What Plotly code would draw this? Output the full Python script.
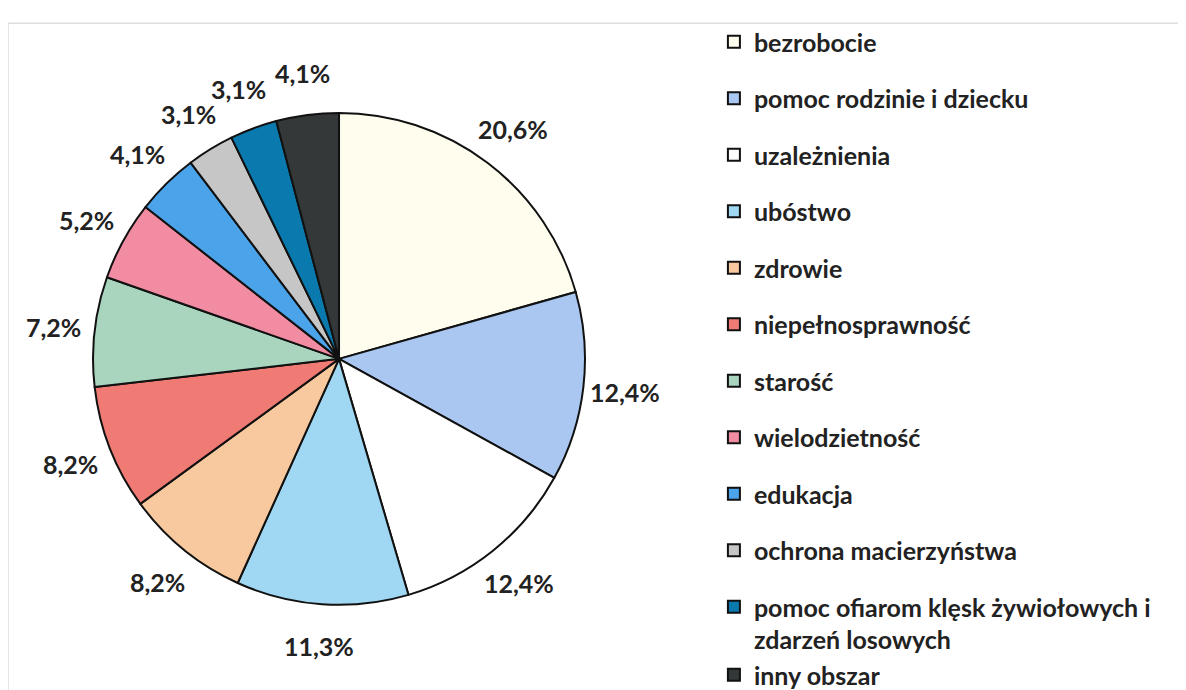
import math

import plotly.graph_objects as go

labels = [
    "bezrobocie", "pomoc rodzinie i dziecku", "uzależnienia", "ubóstwo",
    "zdrowie", "niepełnosprawność", "starość", "wielodzietność", "edukacja",
    "ochrona macierzyństwa", "pomoc ofiarom klęsk żywiołowych i<br>zdarzeń losowych",
    "inny obszar",
]
values = [20.6, 12.4, 12.4, 11.3, 8.2, 8.2, 7.2, 5.2, 4.1, 3.1, 3.1, 4.1]
value_text = ["20,6%", "12,4%", "12,4%", "11,3%", "8,2%", "8,2%", "7,2%",
              "5,2%", "4,1%", "3,1%", "3,1%", "4,1%"]
colors = ["#FFFDEE", "#A9C7F1", "#FFFFFF", "#A0D7F3", "#F8C99E", "#EF7B74",
          "#A9D5BF", "#F18CA3", "#4BA3EA", "#C6C6C6", "#0A7AAE", "#343838"]

FONT = "Lato"
W, H = 1186, 690
DOM_X = [0.0717, 0.4865]
DOM_Y = [0.135, 0.848]

fig = go.Figure()
fig.add_trace(go.Pie(
    labels=labels, values=values, text=value_text,
    textinfo="none",
    marker={"colors": colors, "line": {"color": "#111", "width": 2}},
    sort=False, direction="clockwise", rotation=0,
    domain={"x": DOM_X, "y": DOM_Y},
    showlegend=False, hoverinfo="label+text",
))

# Why: etykiety bez linii odniesienia (jak w Excelu) — pozycja z kąta środka wycinka.
cx = sum(DOM_X) / 2
cy = sum(DOM_Y) / 2
r_px = min((DOM_X[1] - DOM_X[0]) * W, (DOM_Y[1] - DOM_Y[0]) * H) / 2
total = sum(values)
cum = 0.0
for v, t in zip(values, value_text):
    ang = 2 * math.pi * (cum + v / 2) / total
    cum += v
    d = 1.17 * r_px
    fig.add_annotation(
        x=cx + d * math.sin(ang) / W, y=cy + d * math.cos(ang) / H,
        xref="paper", yref="paper", text=t, showarrow=False,
        xanchor="center", yanchor="middle",
        font={"family": FONT, "size": 25, "color": "#222", "weight": "bold"},
    )

# Why: legenda z dużymi odstępami — osobne grupy, ostatnie dwie razem.
for i, (name, c) in enumerate(zip(labels, colors)):
    fig.add_trace(go.Scatter(
        x=[None], y=[None], mode="markers", name=name,
        legendgroup=f"g{min(i, 10)}",
        marker={"symbol": "square", "size": 18, "color": c,
                "line": {"color": "#111", "width": 2}},
    ))

fig.update_layout(
    width=W, height=H,
    margin={"l": 0, "r": 0, "t": 0, "b": 0},
    paper_bgcolor="white", plot_bgcolor="white",
    xaxis={"visible": False}, yaxis={"visible": False},
    legend={
        "x": 0.5952, "y": 0.965, "xanchor": "left", "yanchor": "top",
        "bgcolor": "rgba(0,0,0,0)",
        "font": {"family": FONT, "size": 25, "color": "#222", "weight": "bold"},
        "traceorder": "grouped", "tracegroupgap": 21, "valign": "top",
        "itemsizing": "constant", "maxheight": 1000,
    },
    shapes=[{
        "type": "rect", "xref": "paper", "yref": "paper",
        "x0": 0, "x1": 1, "y0": 0, "y1": 0.978,
        "line": {"color": "#cfcfcf", "width": 1},
    }],
)

fig.write_html("out.html")
